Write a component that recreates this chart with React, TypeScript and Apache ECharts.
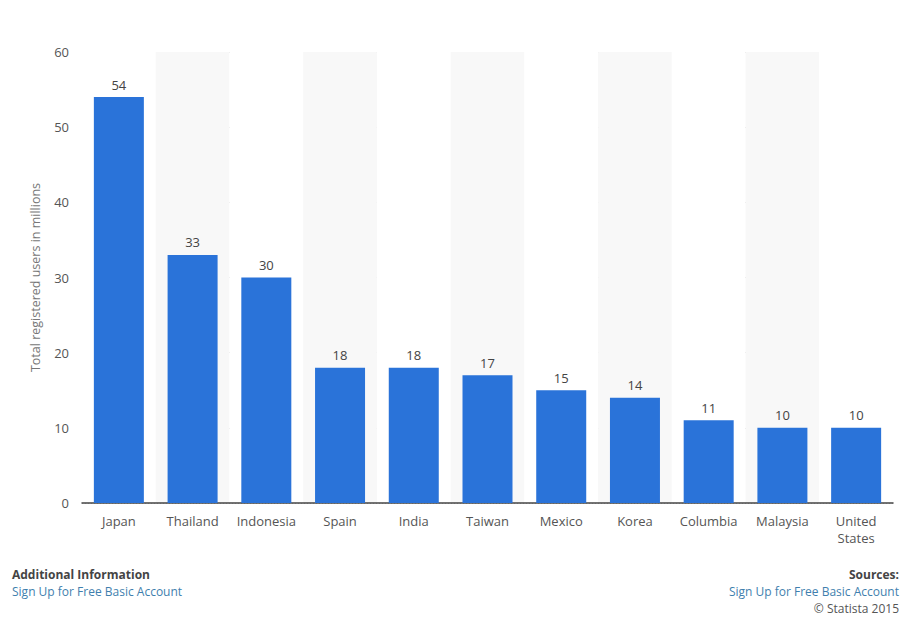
import React, { useEffect, useRef } from "react";
import * as echarts from "echarts";

const categories = ["Japan", "Thailand", "Indonesia", "Spain", "India", "Taiwan", "Mexico", "Korea", "Columbia", "Malaysia", "United\nStates"];
const values = [54, 33, 30, 18, 18, 17, 15, 14, 11, 10, 10];
const yTicks = { min: 0, max: 60, interval: 10 };
const yAxisName = "Total registered users in millions";

export default function App() {
  const ref = useRef<HTMLDivElement>(null);
  useEffect(() => {
    document.body.style.margin = "0";
    const chart = echarts.init(ref.current!, null, { renderer: "svg" });
    const font = "'Open Sans', 'DejaVu Sans', sans-serif";
    chart.setOption({
      animation: false,
      backgroundColor: "#ffffff",
      textStyle: { fontFamily: font },
      grid: { left: 82, right: 10, top: 52, bottom: 114 },
      xAxis: {
        type: "category",
        data: categories,
        axisLine: { lineStyle: { color: "#444", width: 1.5 } },
        axisTick: { show: false },
        axisLabel: { color: "#555", fontSize: 13, margin: 9, interval: 0, lineHeight: 17, fontFamily: font },
        splitArea: { show: true, areaStyle: { color: ["#ffffff", "#f8f8f8"] } },
      },
      yAxis: {
        type: "value",
        min: yTicks.min,
        max: yTicks.max,
        interval: yTicks.interval,
        name: yAxisName,
        nameLocation: "middle",
        nameGap: 40,
        nameTextStyle: { color: "#777", fontSize: 12.5, fontFamily: font },
        axisLine: { show: false },
        axisTick: { show: false },
        axisLabel: { color: "#555", fontSize: 13, margin: 13, fontFamily: font },
        splitLine: { lineStyle: { color: "#c8c8c8", type: [1, 2], width: 1 } },
      },
      series: [
        {
          type: "bar",
          data: values,
          barWidth: 50,
          itemStyle: { color: "#2a73d9" },
          label: { show: true, position: "top", color: "#444", fontSize: 13, distance: 6, fontFamily: font },
        },
      ],
      graphic: [
        { type: "text", left: 12, top: 568, style: { text: "Additional Information", fontSize: 12, fontWeight: "bold", fill: "#444", fontFamily: font } },
        { type: "text", left: 12, top: 585, style: { text: "Sign Up for Free Basic Account", fontSize: 12, fill: "#3f7fae", fontFamily: font } },
        { type: "text", right: 4, top: 568, style: { text: "Sources:", fontSize: 12, fontWeight: "bold", fill: "#444", fontFamily: font, textAlign: "right" } },
        { type: "text", right: 4, top: 585, style: { text: "Sign Up for Free Basic Account", fontSize: 12, fill: "#3f7fae", fontFamily: font, textAlign: "right" } },
        { type: "text", right: 4, top: 602, style: { text: "© Statista 2015", fontSize: 12, fill: "#555", fontFamily: font, textAlign: "right" } },
      ],
    });
    return () => chart.dispose();
  }, []);
  return <div ref={ref} style={{ position: "absolute", left: 0, top: 0, width: 903, height: 617 }} />;
}
